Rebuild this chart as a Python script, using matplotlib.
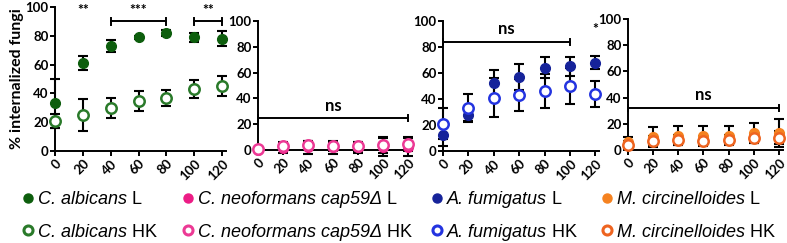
import matplotlib
matplotlib.use("Agg")
import matplotlib.pyplot as plt
from matplotlib.lines import Line2D

plt.rcParams['font.family'] = ['Lato', 'DejaVu Sans']

# time points (min)
time = [0, 20, 40, 60, 80, 100, 120]
xticks = [0, 20, 40, 60, 80, 100, 120]
yticks = [0, 20, 40, 60, 80, 100]

# C. albicans
alb_L = [33, 61, 73, 79, 82, 79, 78]
alb_L_err = [17, 5, 4, 1, 2, 3, 5]
alb_HK = [21, 25, 30, 35, 37, 43, 45]
alb_HK_err = [5, 11, 7, 7, 5.5, 6.5, 7]

# C. neoformans cap59
neo_L = [0, 1.5, 2, 2, 2, 2.5, 2.5]
neo_L_err = [0, 4, 5, 5, 4.5, 7, 7]
neo_HK = [0.5, 3, 3.5, 3, 3, 4, 4.5]
neo_HK_err = [0, 3, 3.5, 3.5, 3.5, 6, 5.5]

# A. fumigatus
fum_L = [12, 28, 52, 57, 64, 65, 68]
fum_L_err = [8, 5, 10, 10, 8, 7, 5]
fum_HK = [21, 33, 41, 43, 46, 50, 44]
fum_HK_err = [12, 11, 15, 12, 13, 14, 10]

# M. circinelloides
muc_L = [6, 10, 11, 11, 11, 13, 13]
muc_L_err = [4, 7.5, 7.5, 7, 7.5, 7.5, 10.5]
muc_HK = [4, 7, 7.5, 7, 8, 9, 9.5]
muc_HK_err = [3, 4, 4, 4, 3.5, 3.5, 5]

species = ["C. albicans", "C. neoformans cap59\u0394", "A. fumigatus", "M. circinelloides"]
suffix = [" L", " HK"]

col_L = ['#0d5e0d', '#ec1c85', '#16239a', '#f58220']
col_HK = ['#2a7a2a', '#ec3a95', '#2434e0', '#ee6420']

W, H = 787, 243
fig = plt.figure(figsize=(W / 100, H / 100), dpi=100)

# pixel boxes: left, top(y=100), bottom(y=0), px per minute
boxes = [(55, 7, 151, 1.392), (258, 21, 150, 1.25),
         (443, 21, 151, 1.27), (628, 19, 150, 1.258)]

data = [(alb_L, alb_L_err, alb_HK, alb_HK_err),
        (neo_L, neo_L_err, neo_HK, neo_HK_err),
        (fum_L, fum_L_err, fum_HK, fum_HK_err),
        (muc_L, muc_L_err, muc_HK, muc_HK_err)]

axes = []
for i, (l, t, b, ppm) in enumerate(boxes):
    xmax = 123
    ax = fig.add_axes([l / W, 1 - b / H, xmax * ppm / W, (b - t) / H])
    yL, eL, yH, eH = data[i]
    ax.errorbar(time, yL, yerr=eL, fmt='none', ecolor='black', elinewidth=1.5,
                capsize=3.5, capthick=1.5, clip_on=False, zorder=2)
    ax.errorbar(time, yH, yerr=eH, fmt='none', ecolor='black', elinewidth=1.5,
                capsize=3.5, capthick=1.5, clip_on=False, zorder=2)
    ax.plot(time, yL, 'o', color=col_L[i], ms=7, clip_on=False, zorder=3)
    ax.plot(time, yH, 'o', mfc='white', mec=col_HK[i], mew=1.8, ms=7.5,
            clip_on=False, zorder=4)
    ax.set_xlim(0, xmax)
    ax.set_ylim(0, 100)
    ax.set_xticks(xticks)
    ax.set_yticks(yticks)
    ax.set_xticklabels([str(v) for v in xticks], rotation=45, ha='right',
                       rotation_mode='anchor', fontweight='bold', fontsize=9.5)
    ax.set_yticklabels([str(v) for v in yticks], fontweight='bold', fontsize=9.5)
    for s in ['top', 'right']:
        ax.spines[s].set_visible(False)
    for s in ['left', 'bottom']:
        ax.spines[s].set_linewidth(1.4)
    ax.tick_params(width=1.4, length=3.5, pad=1.2)
    axes.append(ax)

axes[0].set_ylabel('% internalized fungi', fontweight='bold', fontsize=11.5, labelpad=1)


def bracket(ax, x0, x1, y, txt, ty):
    ax.plot([x0, x1], [y, y], color='black', lw=1.4, clip_on=False)
    ax.plot([x0, x0], [y - 2.5, y + 2.5], color='black', lw=1.4, clip_on=False)
    ax.plot([x1, x1], [y - 2.5, y + 2.5], color='black', lw=1.4, clip_on=False)
    ax.text((x0 + x1) / 2, ty, txt, ha='center', va='center',
            fontweight='bold', fontsize=12 if txt == 'ns' else 10)


a0, a1, a2, a3 = axes
a0.text(20, 98, '**', ha='center', va='center', fontweight='bold', fontsize=10)
bracket(a0, 40, 80, 90, '***', 98)
bracket(a0, 100, 120, 90, '**', 98)
bracket(a1, 0, 120, 25, 'ns', 34)
bracket(a2, 0, 100, 84, 'ns', 94)
a2.text(120, 94, '*', ha='center', va='center', fontweight='bold', fontsize=10)
bracket(a3, 0, 120, 32, 'ns', 42)

# legend drawn by hand: marker + italic name + plain suffix
leg_x = [28, 188, 437, 607]
leg_y = [198, 230]
fs = 13
fig.canvas.draw()
renderer = fig.canvas.get_renderer()
for i in range(4):
    for r in range(2):
        yf = 1 - leg_y[r] / H
        if r == 0:
            m = Line2D([leg_x[i] / W], [yf], transform=fig.transFigure, ls='none',
                       marker='o', color=col_L[i], ms=6.5)
        else:
            m = Line2D([leg_x[i] / W], [yf], transform=fig.transFigure, ls='none',
                       marker='o', mfc='white', mec=col_HK[i], mew=2.2, ms=6.5)
        fig.add_artist(m)
        t = fig.text((leg_x[i] + 10) / W, yf, species[i], fontsize=fs, style='italic',
                     family='Liberation Sans', va='center_baseline')
        bb = t.get_window_extent(renderer)
        fig.text(bb.x1 / W, yf, suffix[r], fontsize=fs, family='Liberation Sans',
                 va='center_baseline')

fig.savefig('out.png', dpi=100)
